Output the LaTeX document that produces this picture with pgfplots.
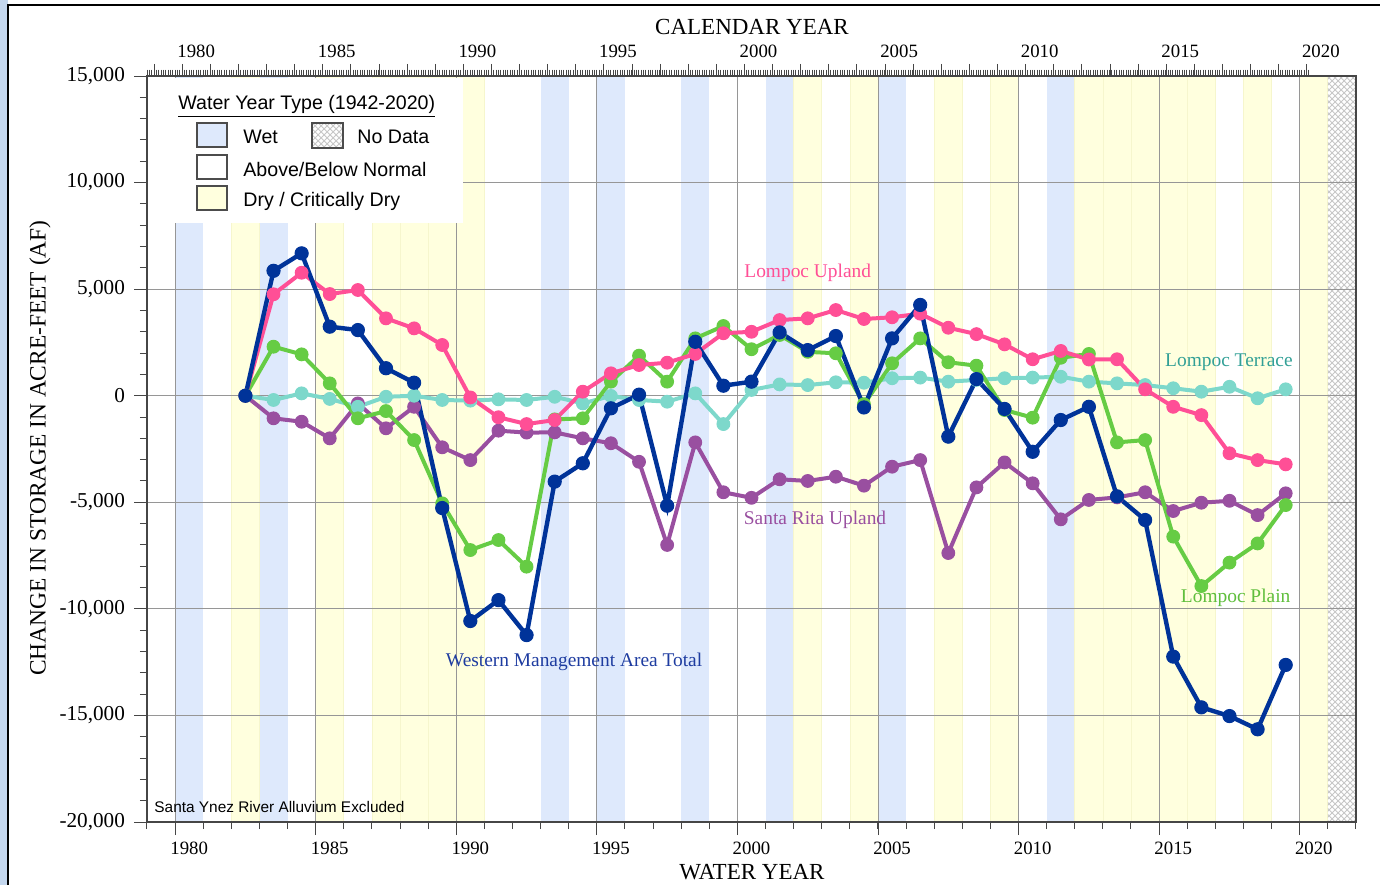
\documentclass[border=0pt]{standalone}
\usepackage{pgfplots}
\pgfplotsset{compat=1.18}
\usepackage{pgfplotstable}
\usetikzlibrary{patterns}
\usepackage{fontspec}
\setmainfont{Liberation Serif}
\newfontfamily\arial{Liberation Sans}

\definecolor{wmac}{RGB}{0,51,153}
\definecolor{uplc}{RGB}{255,79,150}
\definecolor{terc}{RGB}{125,216,203}
\definecolor{plac}{RGB}{102,204,68}
\definecolor{sruc}{RGB}{153,79,160}
\definecolor{wetc}{RGB}{222,233,252}
\definecolor{dryc}{RGB}{255,255,222}
\definecolor{dryedge}{RGB}{246,246,205}
\definecolor{gridc}{RGB}{150,150,150}
\definecolor{tickc}{RGB}{70,70,70}

\pgfplotstableread{
year wma up ter pla sru
1982 0 0 0 0 0
1983 5860 4760 -200 2300 -1060
1984 6680 5770 110 1940 -1220
1985 3240 4770 -150 580 -2000
1986 3080 4960 -520 -1060 -360
1987 1290 3630 -50 -720 -1530
1988 610 3160 0 -2080 -520
1989 -5270 2380 -200 -5050 -2420
1990 -10570 -80 -230 -7240 -3020
1991 -9590 -1010 -170 -6770 -1640
1992 -11230 -1330 -200 -8020 -1730
1993 -4030 -1140 -50 -1110 -1720
1994 -3170 190 -360 -1060 -2000
1995 -590 1050 -10 660 -2230
1996 50 1440 -200 1880 -3100
1997 -5160 1550 -280 660 -7000
1998 2530 1960 110 2690 -2190
1999 470 2930 -1330 3270 -4530
2000 660 3000 270 2180 -4790
2001 2970 3550 530 2850 -3920
2002 2140 3630 500 2060 -4000
2003 2800 4020 630 1990 -3800
2004 -550 3600 610 -400 -4220
2005 2690 3680 820 1520 -3330
2006 4260 3850 850 2690 -3020
2007 -1920 3190 660 1570 -7380
2008 780 2890 740 1410 -4300
2009 -620 2410 820 -670 -3130
2010 -2630 1710 850 -1030 -4110
2011 -1140 2100 890 1780 -5800
2012 -520 1700 660 1960 -4890
2013 -4720 1710 580 -2190 -4770
2014 -5830 300 500 -2080 -4530
2015 -12240 -520 350 -6610 -5410
2016 -14620 -910 190 -8930 -5020
2017 -15030 -2700 420 -7830 -4930
2018 -15650 -3020 -120 -6930 -5600
2019 -12630 -3220 300 -5130 -4580
}\datatab

\newcommand\band[3]{\addplot[draw=none, fill=#3] coordinates {(#1,-20000) (#1,15000) (#2,15000) (#2,-20000)};}
\newcommand\dband[2]{\addplot[draw=dryedge, line width=0.4pt, fill=dryc] coordinates {(#1,-20000) (#1,15000) (#2,15000) (#2,-20000)};}

\tikzset{lbl/.style={font=\fontsize{9.4}{11}\selectfont}}
\pgfplotsset{
  common/.style={
    scale only axis, width=604.5pt, height=373pt,
    at={(0,0)}, anchor=south west,
    xmin=1978.5, xmax=2021.5, ymin=-20000, ymax=15000,
  },
}

\begin{document}
\begin{tikzpicture}
\path[use as bounding box] (-73.5pt,-31.5pt) rectangle (616.5pt,411pt);
% outer frame of the original figure
\fill[fill={rgb,255:red,196;green,215;blue,238}] (-73.5pt,-31.5pt) rectangle (-69.5pt,411pt);
\draw[black, line width=1.4pt] (-69.5pt,-31.5pt) -- (-69.5pt,408.5pt) -- (616.5pt,408.5pt);

% ---- water-year-type bands
\begin{axis}[common, hide axis]
\band{1979.5}{1980.5}{wetc}
\band{1982.5}{1983.5}{wetc}
\band{1992.5}{1993.5}{wetc}
\band{1994.5}{1995.5}{wetc}
\band{1997.5}{1998.5}{wetc}
\band{2000.5}{2001.5}{wetc}
\band{2004.5}{2005.5}{wetc}
\band{2010.5}{2011.5}{wetc}
\dband{1981.5}{1982.5}
\dband{1984.5}{1985.5}
\dband{1986.5}{1987.5}
\dband{1987.5}{1988.5}
\dband{1988.5}{1989.5}
\dband{1989.5}{1990.5}
\dband{2001.5}{2002.5}
\dband{2003.5}{2004.5}
\dband{2006.5}{2007.5}
\dband{2008.5}{2009.5}
\dband{2011.5}{2012.5}
\dband{2012.5}{2013.5}
\dband{2013.5}{2014.5}
\dband{2014.5}{2015.5}
\dband{2015.5}{2016.5}
\dband{2017.5}{2018.5}
\dband{2019.5}{2020.5}
\addplot[draw=none, pattern=crosshatch, pattern color=gray!45] coordinates {(2020.5,-20000) (2020.5,15000) (2021.5,15000) (2021.5,-20000)};
\end{axis}

% ---- main axis: grid, bottom and left ticks, data
\begin{axis}[common,
  axis line style={draw=tickc, line width=0.6pt},
  tick style={draw=tickc, line width=0.5pt},
  tick align=outside, xtick pos=bottom, ytick pos=left,
  xtick={1979.5,1984.5,...,2019.5}, xticklabels={},
  minor xtick={1978.5,1979.5,...,2021.5},
  major tick length=6.5pt, minor tick length=3.6pt,
  xmajorgrids, ymajorgrids,
  major grid style={draw=gridc, line width=0.5pt},
  ytick={-20000,-15000,...,15000}, minor y tick num=4,
  scaled y ticks=false,
  extra x ticks={1980,1985,...,2020},
  extra x tick labels={1980,1985,1990,1995,2000,2005,2010,2015,2020},
  extra x tick style={major tick length=0pt, grid=none,
     xticklabel style={lbl, yshift=-6.5pt}},
  yticklabel style={font=\fontsize{10.6}{12}\selectfont, xshift=-1pt},
  /pgf/number format/.cd, 1000 sep={,}, assume math mode=true,
]
\addplot[sruc, line width=2pt, mark=*, mark size=3.2pt, mark options={fill=sruc, draw=sruc, line width=0.5pt}] table[x=year, y=sru] {\datatab};
\addplot[terc, line width=2pt, mark=*, mark size=3.2pt, mark options={fill=terc, draw=terc, line width=0.5pt}] table[x=year, y=ter] {\datatab};
\addplot[plac, line width=2pt, mark=*, mark size=3.2pt, mark options={fill=plac, draw=plac, line width=0.5pt}] table[x=year, y=pla] {\datatab};
\addplot[uplc, line width=2pt, mark=*, mark size=3.2pt, mark options={fill=uplc, draw=uplc, line width=0.5pt}] table[x=year, y=up] {\datatab};
\addplot[wmac, line width=2.2pt, mark=*, mark size=3.3pt, mark options={fill=wmac, draw=wmac, line width=0.5pt}] table[x=year, y=wma] {\datatab};

\node[font=\fontsize{9.7}{11}\selectfont, text=uplc] at (axis cs:2002.0,5757) {Lompoc Upland};
\node[font=\fontsize{9.7}{11}\selectfont, text=sruc] at (axis cs:2002.26,-5830) {Santa Rita Upland};
\node[font=\fontsize{9.7}{11}\selectfont, text={rgb,255:red,30;green,60;blue,160}] at (axis cs:1993.69,-12500) {Western Management Area Total};
\node[font=\fontsize{9.7}{11}\selectfont, text={rgb,255:red,50;green,160;blue,150}] at (axis cs:2016.98,1580) {Lompoc Terrace};
\node[font=\fontsize{9.7}{11}\selectfont, text={rgb,255:red,95;green,190;blue,60}] at (axis cs:2017.22,-9490) {Lompoc Plain};
\node[font=\arial\fontsize{7.7}{9}\selectfont, anchor=west, inner sep=0pt] at (axis cs:1978.75,-19300) {Santa Ynez River Alluvium Excluded};
\end{axis}

% ---- top axis: calendar years
\begin{axis}[common,
  axis x line*=top, axis y line=none,
  axis line style={draw=tickc, line width=0.6pt},
  tick style={draw=tickc, line width=0.45pt},
  tick align=outside,
  xtick={1978.75,1979.75,...,2019.75}, xticklabels={},
  minor xtick={1978.5,1978.583333,...,2019.84},
  major tick length=6pt, minor tick length=3.2pt,
  extra x ticks={1980.25,1985.25,...,2020.25},
  extra x tick labels={1980,1985,1990,1995,2000,2005,2010,2015,2020},
  extra x tick style={major tick length=0pt, xticklabel style={lbl, yshift=5.5pt}},
]
\addplot[draw=none] coordinates {(1980,0)};
\end{axis}

% ---- axis titles
\node[font=\fontsize{11.5}{13}\selectfont] at (302.5pt,397.5pt) {CALENDAR YEAR};
\node[font=\fontsize{11.5}{13}\selectfont] at (302.5pt,-25pt) {WATER YEAR};
\node[font=\fontsize{11.7}{13}\selectfont, rotate=90] at (-53.5pt,187pt) {CHANGE IN STORAGE IN ACRE-FEET (AF)};

% ---- legend
\fill[white] (0.3pt,299.5pt) rectangle (158pt,372pt);
\begin{scope}[font=\arial\fontsize{9.8}{11}\selectfont]
\node[anchor=west, inner sep=0pt] at (15.5pt,358pt) {\underline{Water Year Type (1942-2020)}};
\draw[draw=black!70, line width=0.8pt, fill=wetc] (25pt,337.5pt) rectangle (40pt,349.5pt);
\node[anchor=west, inner sep=0pt] at (48pt,342.5pt) {Wet};
\draw[draw=black!70, line width=0.8pt, pattern=crosshatch, pattern color=gray!45] (82.5pt,337pt) rectangle (98pt,349.5pt);
\node[anchor=west, inner sep=0pt] at (105pt,342.5pt) {No Data};
\draw[draw=black!70, line width=0.8pt, fill=white] (25pt,321.5pt) rectangle (40pt,333.5pt);
\node[anchor=west, inner sep=0pt] at (48pt,326.5pt) {Above/Below Normal};
\draw[draw=black!70, line width=0.8pt, fill=dryc] (25pt,306pt) rectangle (40pt,318pt);
\node[anchor=west, inner sep=0pt] at (48pt,310.5pt) {Dry / Critically Dry};
\end{scope}
\end{tikzpicture}
\end{document}
